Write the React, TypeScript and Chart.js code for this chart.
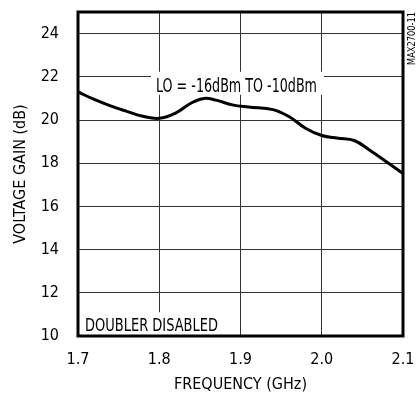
import React, { useEffect, useRef } from "react";
import { Chart, registerables } from "chart.js";

Chart.register(...registerables);

const FREQ = [1.7, 1.72, 1.74, 1.76, 1.78, 1.8, 1.82, 1.84, 1.855, 1.87, 1.89, 1.91, 1.94, 1.96, 1.98, 2.0, 2.02, 2.04, 2.06, 2.08, 2.1];
const GAIN = [21.3, 20.95, 20.65, 20.4, 20.17, 20.08, 20.32, 20.8, 21.0, 20.92, 20.7, 20.6, 20.48, 20.15, 19.62, 19.28, 19.16, 19.05, 18.58, 18.06, 17.52];
const X_TICKS = [1.7, 1.8, 1.9, 2.0, 2.1];
const X_LABELS = ["1.7", "1.8", "1.9", "2.0", "2.1"];
const Y_TICKS = [10, 12, 14, 16, 18, 20, 22, 24];
const Y_MIN = 10;
const Y_MAX = 25;
const X_TITLE = "FREQUENCY (GHz)";
const Y_TITLE = "VOLTAGE GAIN (dB)";
const LABEL_LO = "LO = -16dBm TO -10dBm";
const LABEL_DOUBLER = "DOUBLER DISABLED";
const LABEL_ID = "MAX2700-11";

const FONT = "'Liberation Sans Narrow', 'DejaVu Sans Condensed', 'Liberation Sans', sans-serif";

const fitText = (ctx: CanvasRenderingContext2D, text: string, x: number, y: number, w: number) => {
  const m = ctx.measureText(text).width;
  ctx.save();
  ctx.translate(x, y);
  ctx.scale(w / m, 1);
  ctx.fillText(text, 0, 0);
  ctx.restore();
};

const overlay = {
  id: "overlay",
  beforeDatasetsDraw(chart: any) {
    const { ctx, chartArea: a, scales } = chart;
    const xs = scales.x;
    const ys = scales.y;
    ctx.save();
    ctx.fillStyle = "#fff";
    const lx0 = xs.getPixelForValue(1.7) + 73;
    const y22 = ys.getPixelForValue(22);
    ctx.fillRect(lx0, y22 - 5, 173, 23);
    const y11 = ys.getPixelForValue(11.1);
    ctx.fillRect(a.left + 2, y11, 142, ys.getPixelForValue(10) - y11);
    ctx.fillStyle = "#000";
    ctx.textBaseline = "alphabetic";
    ctx.textAlign = "left";
    ctx.font = `19px ${FONT}`;
    fitText(ctx, LABEL_LO, lx0 + 5, y22 + 15, 161);
    ctx.font = `18px ${FONT}`;
    fitText(ctx, LABEL_DOUBLER, a.left + 7, ys.getPixelForValue(10) - 5, 133);
    ctx.restore();
  },
  afterDraw(chart: any) {
    const { ctx, chartArea: a } = chart;
    ctx.save();
    ctx.strokeStyle = "#000";
    ctx.lineWidth = 3;
    ctx.strokeRect(a.left, a.top, a.right - a.left, a.bottom - a.top);
    ctx.translate(a.right + 9, a.top);
    ctx.rotate(-Math.PI / 2);
    ctx.fillStyle = "#000";
    ctx.font = `10px ${FONT}`;
    ctx.textAlign = "left";
    ctx.textBaseline = "middle";
    fitText(ctx, LABEL_ID, -53, 0, 53);
    ctx.restore();
  },
};

export default function App() {
  const ref = useRef<HTMLCanvasElement | null>(null);
  useEffect(() => {
    document.body.style.margin = "0";
    const canvas = ref.current;
    if (!canvas) return;
    const chart = new Chart(canvas, {
      type: "line",
      data: {
        datasets: [
          {
            data: FREQ.map((f, i) => ({ x: f, y: GAIN[i] })),
            borderColor: "#000",
            borderWidth: 3,
            pointRadius: 0,
            fill: false,
            tension: 0.4,
          },
        ],
      },
      options: {
        animation: false,
        responsive: false,
        maintainAspectRatio: false,
        layout: { padding: { top: 12, right: 17, left: 0, bottom: 0 } },
        plugins: { legend: { display: false }, tooltip: { enabled: false } },
        scales: {
          x: {
            type: "linear",
            min: 1.7,
            max: 2.1,
            afterBuildTicks: (s: any) => {
              s.ticks = X_TICKS.map((v) => ({ value: v }));
            },
            afterFit: (s: any) => {
              s.height = 58;
              s.paddingLeft = 0;
              s.paddingRight = 0;
            },
            ticks: {
              autoSkip: false,
              maxRotation: 0,
              padding: 14,
              color: "#000",
              font: { family: FONT, size: 16 },
              callback: (v: any) => {
                const i = X_TICKS.findIndex((t) => Math.abs(t - v) < 1e-6);
                return i >= 0 ? X_LABELS[i] : "";
              },
            },
            grid: { color: "#333", lineWidth: 1, drawTicks: false },
            border: { display: false },
            title: {
              display: true,
              text: X_TITLE,
              color: "#000",
              font: { family: FONT, size: 16, lineHeight: 1.2 },
              padding: { top: 0, bottom: 0 },
            },
          },
          y: {
            type: "linear",
            min: Y_MIN,
            max: Y_MAX,
            afterBuildTicks: (s: any) => {
              s.ticks = Y_TICKS.map((v) => ({ value: v }));
            },
            afterFit: (s: any) => {
              s.width = 78;
              s.paddingTop = 0;
              s.paddingBottom = 0;
            },
            ticks: {
              padding: 19,
              color: "#000",
              font: { family: FONT, size: 16 },
            },
            grid: { color: "#333", lineWidth: 1, drawTicks: false },
            border: { display: false },
            title: {
              display: true,
              text: Y_TITLE,
              color: "#000",
              font: { family: FONT, size: 16, lineHeight: 1.2 },
              padding: { top: 11, bottom: 0 },
            },
          },
        },
      },
      plugins: [overlay],
    } as any);
    return () => chart.destroy();
  }, []);
  return (
    <div style={{ position: "fixed", left: 0, top: 0, width: 420, height: 394, background: "#fff" }}>
      <canvas ref={ref} width={420} height={394} style={{ width: 420, height: 394 }} />
    </div>
  );
}
